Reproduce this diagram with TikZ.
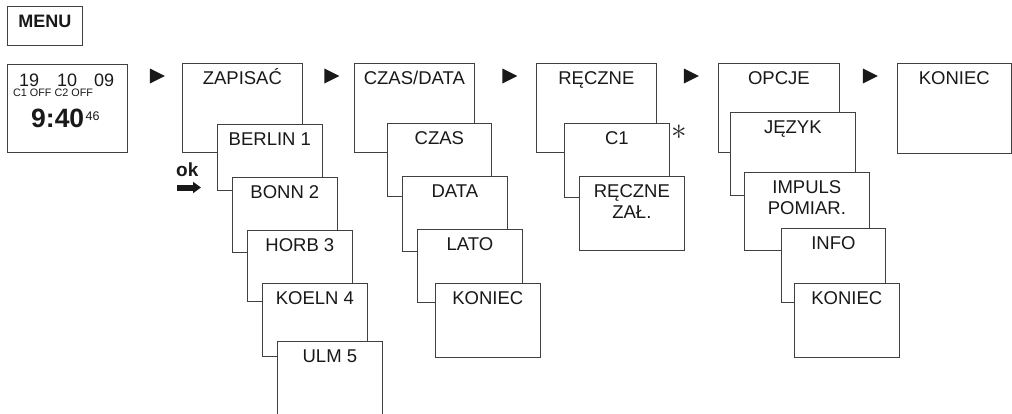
\documentclass[tikz,border=0pt]{standalone}
\usepackage{fontspec}
\setmainfont{Liberation Sans}
\usetikzlibrary{shapes.geometric,arrows.meta}

\tikzset{
  screen/.style={draw=black!75, line width=0.7pt, fill=white, inner sep=0pt, anchor=north west},
  caption/.style={anchor=base, yshift=-21.5pt, inner sep=0pt, align=center, text=black!90,
    font=\fontsize{18.5}{21}\selectfont},
  twolines/.style={yshift=-21pt},
  nexttri/.style={isosceles triangle, isosceles triangle stretches, fill=black!90, draw=none,
    inner sep=0pt, minimum width=15pt, minimum height=15pt},
}

\begin{document}
\begin{tikzpicture}[x=1pt, y=-1pt]
  \useasboundingbox (0,0) rectangle (1012,413);

  % key and start screen
  \node[screen, minimum width=75pt, minimum height=39pt,
    label={[caption, font=\fontsize{18}{20}\selectfont\bfseries]north:MENU}] (menu) at (7,6) {};
  \node[screen, minimum width=120pt, minimum height=88pt] (disp) at (7,64) {};

  \begin{scope}[every node/.style={anchor=base west, inner sep=0pt, text=black!90}]
    \node[font=\fontsize{18}{18}\selectfont] (day)   at (19,86) {19};
    \node[font=\fontsize{18}{18}\selectfont] (month) at (57,86) {10};
    \node[font=\fontsize{18}{18}\selectfont] (year)  at (94,86) {09};
    \node[font=\fontsize{10.8}{11}\selectfont] (chan) at (13,96.5) {C1 OFF C2 OFF};
    \node[font=\fontsize{26.5}{27}\selectfont\bfseries] (clock) at (31,127.5) {9:40};
    \node[font=\fontsize{12.5}{12}\selectfont] (sec) at (85.5,120) {46};
    \node[font=\fontsize{19}{19}\selectfont\bfseries] (ok) at (176,176) {ok};
  \end{scope}

  \coordinate (okA) at (177,187.5);
  \coordinate (okB) at (201,187.5);
  \draw[line width=6pt, black!90, -{Triangle[length=8pt, width=11pt]}] (okA) -- (okB);

  % next arrows
  \node[nexttri] (t1) at (154.5,76) {};
  \node[nexttri] (t2) at (329,76) {};
  \node[nexttri] (t3) at (507,76) {};
  \node[nexttri] (t4) at (688.5,76) {};
  \node[nexttri] (t5) at (867.5,76) {};

  % ZAPISAC
  \node[screen, minimum width=120pt, minimum height=89pt, label={[caption]north:ZAPISAĆ}] (zap) at (182,63) {};
  \node[screen, minimum width=105pt, minimum height=66pt, label={[caption]north:BERLIN 1}] (zap1) at (217,124) {};
  \node[screen, minimum width=105pt, minimum height=75pt, label={[caption]north:BONN 2}] (zap2) at (232,177) {};
  \node[screen, minimum width=105pt, minimum height=71pt, label={[caption]north:HORB 3}] (zap3) at (247,230) {};
  \node[screen, minimum width=105pt, minimum height=73pt, label={[caption]north:KOELN 4}] (zap4) at (262,283) {};
  \node[screen, minimum width=105pt, minimum height=80pt, label={[caption]north:ULM 5}] (zap5) at (277,341) {};

  % CZAS/DATA
  \node[screen, minimum width=120pt, minimum height=89pt, label={[caption]north:CZAS/DATA}] (czd) at (354,63) {};
  \node[screen, minimum width=104pt, minimum height=73pt, label={[caption]north:CZAS}] (czd1) at (387,123) {};
  \node[screen, minimum width=105pt, minimum height=75pt, label={[caption]north:DATA}] (czd2) at (402,176) {};
  \node[screen, minimum width=105pt, minimum height=73pt, label={[caption]north:LATO}] (czd3) at (417,229) {};
  \node[screen, minimum width=105pt, minimum height=74pt, label={[caption]north:KONIEC}] (czd4) at (435,283) {};

  % RECZNE
  \node[screen, minimum width=120pt, minimum height=89pt, label={[caption]north:RĘCZNE}] (rec) at (536,63) {};
  \node[screen, minimum width=105pt, minimum height=74pt, label={[caption]north:C1}] (rec1) at (564,123) {};
  \node[screen, minimum width=105pt, minimum height=74pt, label={[caption, twolines]north:{RĘCZNE\\ZAŁ.}}] (rec2) at (579,176) {};
  \node[inner sep=0pt, scale=1.5, transform shape, font=\fontsize{20}{20}\selectfont, text=black!85] (star) at (679,132) {$\ast$};

  % OPCJE
  \node[screen, minimum width=121pt, minimum height=89pt, label={[caption]north:OPCJE}] (opc) at (718,63) {};
  \node[screen, minimum width=125pt, minimum height=83pt, label={[caption]north:JĘZYK}] (opc1) at (730,112) {};
  \node[screen, minimum width=125pt, minimum height=78pt, label={[caption, twolines]north:{IMPULS\\POMIAR.}}] (opc2) at (744,172) {};
  \node[screen, minimum width=104pt, minimum height=74pt, label={[caption]north:INFO}] (opc3) at (781,228) {};
  \node[screen, minimum width=105pt, minimum height=74pt, label={[caption]north:KONIEC}] (opc4) at (794,283) {};

  % KONIEC
  \node[screen, minimum width=114pt, minimum height=90pt, label={[caption]north:KONIEC}] (end) at (897,63) {};

\end{tikzpicture}
\end{document}
